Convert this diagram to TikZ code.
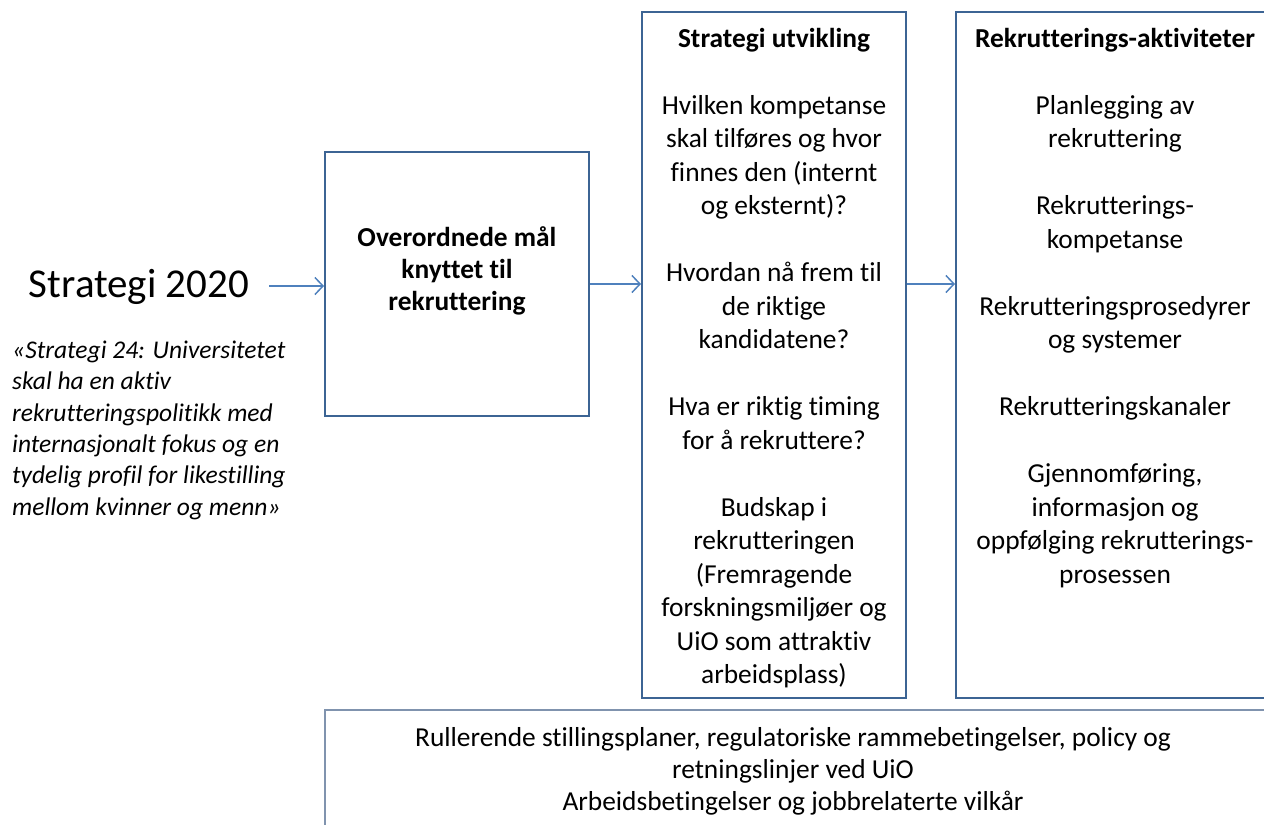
\documentclass[tikz,border=0pt]{standalone}
\usepackage{fontspec}
\setmainfont[Ligatures=NoCommon]{Carlito}
\usetikzlibrary{arrows.meta}
\definecolor{boxblue}{HTML}{3C6494}
\definecolor{arrowblue}{HTML}{4F81BD}
\definecolor{lightframe}{HTML}{8093AE}
\newcommand\firstln{\rule{0pt}{30bp}}
\tikzset{
  frame/.style={draw=boxblue, line width=2bp, fill=none, inner sep=0pt},
  lightbox/.style={draw=lightframe, line width=1.4bp, inner sep=0pt},
  flow/.style={draw=arrowblue, line width=1.5bp, -{Straight Barb[length=8bp,width=17bp,line width=1.5bp]}},
  body/.style={inner sep=0pt, align=center, font=\fontsize{27.4bp}{33.5bp}\selectfont},
}
\begin{document}
\begin{tikzpicture}[x=1bp,y=-1bp]
\useasboundingbox (0,0) rectangle (1264,825);
\clip (0,0) rectangle (1264,825);

% boxes
\node[frame, minimum width=264bp, minimum height=263bp] (goal) at (457,284) {};
\node[frame, minimum width=264bp, minimum height=686bp] (strat) at (774,355) {};
\node[frame, minimum width=318bp, minimum height=686bp] (rek) at (1115,355) {};
\node[lightbox, minimum width=960bp, minimum height=140bp] (frame) at (805,780) {};

% left texts
\node[inner sep=0pt, font=\fontsize{41bp}{49bp}\selectfont] (s2020) at (139,287) {Strategi 2020};
\node[inner sep=0pt, anchor=north west, align=left,
      font=\fontsize{25.5bp}{31.4bp}\selectfont\itshape] (quote) at (12,328)
  {\firstln «Strategi 24: Universitetet\\
   skal ha en aktiv\\
   rekrutteringspolitikk med\\
   internasjonalt fokus og en\\
   tydelig profil for likestilling\\
   mellom kvinner og menn»};

% box texts
\node[inner sep=0pt, align=center, font=\fontsize{27.4bp}{32bp}\selectfont\bfseries] (goaltxt) at (457,271)
  {Overordnede mål\\ knyttet til\\ rekruttering};

\node[body, anchor=north] (strattxt) at (774,17)
  {\firstln\textbf{Strategi utvikling}\\[33.5bp]
   Hvilken kompetanse\\
   skal tilføres og hvor\\
   finnes den (internt\\
   og eksternt)?\\[33.5bp]
   Hvordan nå frem til\\
   de riktige\\
   kandidatene?\\[33.5bp]
   Hva er riktig timing\\
   for å rekruttere?\\[33.5bp]
   Budskap i\\
   rekrutteringen\\
   (Fremragende\\
   forskningsmiljøer og\\
   UiO som attraktiv\\
   arbeidsplass)};

\node[body, anchor=north] (rektxt) at (1115,17)
  {\firstln\textbf{Rekrutterings-aktiviteter}\\[33.5bp]
   Planlegging av\\
   rekruttering\\[33.5bp]
   Rekrutterings-\\
   kompetanse\\[33.5bp]
   Rekrutteringsprosedyrer\\
   og systemer\\[33.5bp]
   Rekrutteringskanaler\\[33.5bp]
   Gjennomføring,\\
   informasjon og\\
   oppfølging rekrutterings-\\
   prosessen};

\node[inner sep=0pt, align=center, anchor=north, font=\fontsize{27.4bp}{32bp}\selectfont] (frametxt) at (793,716)
  {\firstln Rullerende stillingsplaner, regulatoriske rammebetingelser, policy og\\
   retningslinjer ved UiO\\
   Arbeidsbetingelser og jobbrelaterte vilkår};

% arrows
\coordinate (a0) at (269,286);
\draw[flow] (a0) -- (a0 -| goal.west);
\draw[flow] (goal.east |- 0,284) -- (strat.west |- 0,284);
\draw[flow] (strat.east |- 0,284) -- (rek.west |- 0,284);
\end{tikzpicture}
\end{document}
